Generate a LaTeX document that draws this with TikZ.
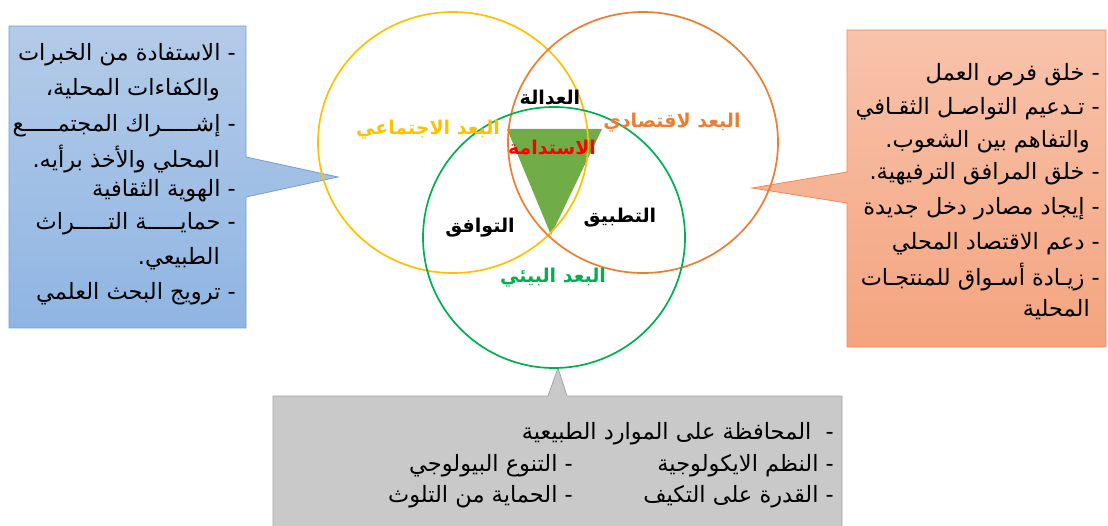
\documentclass[tikz,border=0pt]{standalone}
\usepackage{fontspec}
\TeXXeTstate=1
\newfontfamily\arabicfont[Script=Arabic]{DejaVu Sans}
\newcommand{\AR}[1]{{\arabicfont\beginR #1\endR}}
\definecolor{cYel}{HTML}{FFC000}
\definecolor{cOra}{HTML}{ED7D31}
\definecolor{cGrn}{HTML}{00B050}
\definecolor{cTri}{HTML}{70AD47}
\definecolor{cRed}{HTML}{FF0000}
\definecolor{bBlueT}{HTML}{B4CBE8}
\definecolor{bBlueB}{HTML}{8FB5E3}
\definecolor{bBlueD}{HTML}{6F9FD6}
\definecolor{bOraT}{HTML}{F8C3AB}
\definecolor{bOraB}{HTML}{F4A47F}
\definecolor{bOraD}{HTML}{F08A55}
\definecolor{bGray}{HTML}{C9C9C9}
\definecolor{bGrayD}{HTML}{A5A5A5}
\begin{document}
\begin{tikzpicture}[x=1pt,y=-1pt,
  boxtxt/.style={anchor=east,inner sep=0pt,font=\fontsize{22.5}{26}\selectfont},
  lbl/.style={anchor=center,inner sep=0pt,font=\fontsize{19}{22}\selectfont\bfseries},
  ring/.style={line width=1.7pt}]
\useasboundingbox (0,0) rectangle (1108,526);
\clip (0,0) rectangle (1108,526);
% callout boxes
\path[draw=bBlueD,line width=0.8pt,top color=bBlueT,bottom color=bBlueB]
  (9,26) -- (246,26) -- (246,157) -- (338,177) -- (246,197) -- (246,328) -- (9,328) -- cycle;
\path[draw=bOraD,line width=0.8pt,top color=bOraT,bottom color=bOraB]
  (847,30) -- (1106,30) -- (1106,347) -- (847,347) -- (847,203) -- (752,188) -- (847,172) -- cycle;
\path[draw=bGrayD,line width=0.8pt,fill=bGray]
  (273,396) -- (548,396) -- (558,368) -- (567,396) -- (842,396) -- (842,540) -- (273,540) -- cycle;
% triangle
\fill[cTri] (507,129) -- (602,129) -- (551,235) -- cycle;
% circles
\draw[ring,cYel] (453,142.5) ellipse [x radius=135, y radius=130.5];
\draw[ring,cOra] (643,142.5) ellipse [x radius=135, y radius=130.5];
\draw[ring,cGrn] (554,237.5) ellipse [x radius=131, y radius=130.5];
% labels
\node[lbl] (adala) at (550,98) {\AR{العدالة}};
\node[lbl,text=cYel] (ijtima) at (428,130) {\AR{البعد الاجتماعي}};
\node[lbl,text=cOra] (iqtisad) at (672,123) {\AR{البعد لاقتصادي}};
\node[lbl,text=cRed] (istidama) at (552,148) {\AR{الاستدامة}};
\node[lbl] (tawafuq) at (480,228) {\AR{التوافق}};
\node[lbl] (tatbiq) at (620,218) {\AR{التطبيق}};
\node[lbl,text=cGrn] (biai) at (553,278) {\AR{البعد البيئي}};
% left box text
\node[boxtxt] (l1) at (236,55) {\AR{- الاستفادة من الخبرات}};
\node[boxtxt] (l2) at (220,90) {\AR{والكفاءات المحلية،}};
\node[boxtxt] (l3) at (236,126) {\AR{- إشـــــراك المجتمـــــع}};
\node[boxtxt] (l4) at (220,159) {\AR{المحلي والأخذ برأيه.}};
\node[boxtxt] (l5) at (236,191) {\AR{- الهوية الثقافية}};
\node[boxtxt] (l6) at (236,224) {\AR{- حمايـــــة التـــــراث}};
\node[boxtxt] (l7) at (220,259) {\AR{الطبيعي.}};
\node[boxtxt] (l8) at (236,294) {\AR{- ترويج البحث العلمي}};
% right box text
\node[boxtxt] (r1) at (1100,75) {\AR{- خلق فرص العمل}};
\node[boxtxt] (r2) at (1100,109) {\AR{- تـدعيم التواصـل الثقـافي}};
\node[boxtxt] (r3) at (1090,142) {\AR{والتفاهم بين الشعوب.}};
\node[boxtxt] (r4) at (1100,174) {\AR{- خلق المرافق الترفيهية.}};
\node[boxtxt] (r5) at (1100,209) {\AR{- إيجاد مصادر دخل جديدة}};
\node[boxtxt] (r6) at (1100,244) {\AR{- دعم الاقتصاد المحلي}};
\node[boxtxt] (r7) at (1100,277) {\AR{- زيـادة أسـواق للمنتجـات}};
\node[boxtxt] (r8) at (1090,310) {\AR{المحلية}};
% bottom box text
\node[boxtxt] (b1) at (834,434) {\AR{-\ \ المحافظة على الموارد الطبيعية}};
\node[boxtxt] (b2) at (834,466) {\AR{- النظم الايكولوجية}};
\node[boxtxt] (b3) at (573,466) {\AR{- التنوع البيولوجي}};
\node[boxtxt] (b4) at (834,497) {\AR{- القدرة على التكيف}};
\node[boxtxt] (b5) at (573,497) {\AR{- الحماية من التلوث}};
\end{tikzpicture}
\end{document}
